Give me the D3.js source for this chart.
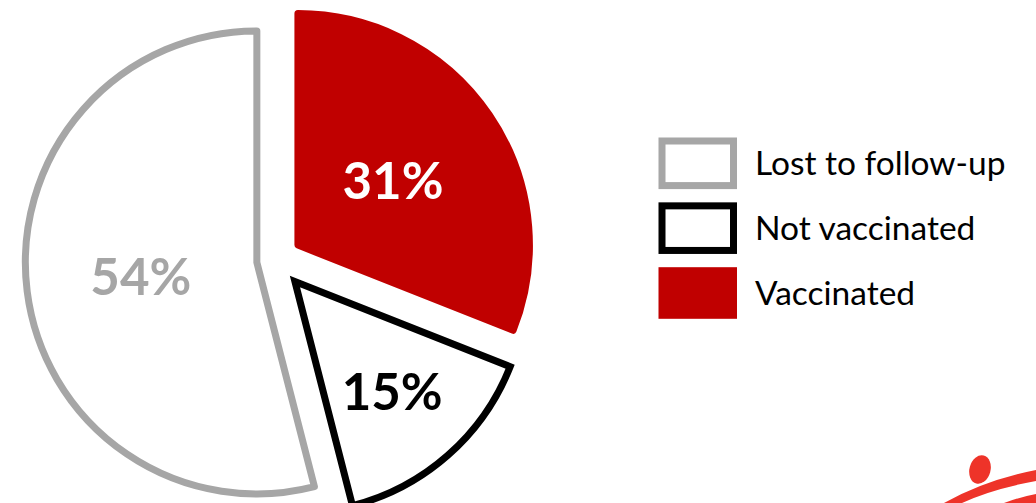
<!DOCTYPE html>
<html>
<head>
<meta charset="utf-8">
<script src="https://cdn.jsdelivr.net/npm/d3@7"></script>
<style>
  html, body { margin: 0; padding: 0; background: #fff; }
  svg { display: block; }
</style>
</head>
<body>
<div id="viz"></div>
<script>
// data (pie order: clockwise from 12 o'clock)
var categories = ['Vaccinated', 'Not vaccinated', 'Lost to follow-up']
var shares = [31, 15, 54]
var shareLabels = ['31%', '15%', '54%']
var legendOrder = ['Lost to follow-up', 'Not vaccinated', 'Vaccinated']

var width = 1036, height = 503
var radius = 231.5
var cx = 276, cy = 260

// how far each slice is pulled out, and where its label sits
var explode = {'Vaccinated': 26.5, 'Not vaccinated': 28.6, 'Lost to follow-up': 19.3}
var labelRadius = {'Vaccinated': 115, 'Not vaccinated': 147, 'Lost to follow-up': 117}

var fill = {'Vaccinated': '#c00000', 'Not vaccinated': '#ffffff', 'Lost to follow-up': '#ffffff'}
var stroke = {'Vaccinated': '#c00000', 'Not vaccinated': '#000000', 'Lost to follow-up': '#a6a6a6'}
var join = {'Vaccinated': 'round', 'Not vaccinated': 'miter', 'Lost to follow-up': 'round'}
var textColor = {'Vaccinated': '#ffffff', 'Not vaccinated': '#000000', 'Lost to follow-up': '#a6a6a6'}

var svg = d3.select('#viz')
  .append('svg')
  .attr('width', width)
  .attr('height', height)

var pie = d3.pie()
  .sort(null)
  .value(function(d) { return d.value })

var arcs = pie(categories.map(function(c, i) {
  return {name: c, value: shares[i], label: shareLabels[i]}
}))

var arc = d3.arc()
  .innerRadius(0)
  .outerRadius(radius)

function mid(d) { return (d.startAngle + d.endAngle) / 2 }

var slices = svg.append('g')
  .attr('transform', 'translate(' + cx + ',' + cy + ')')
  .selectAll('g.slice').data(arcs)
  .enter().append('g')
  .attr('class', 'slice')
  .attr('transform', function(d) {
    var a = mid(d), k = explode[d.data.name]
    return 'translate(' + (Math.sin(a) * k) + ',' + (-Math.cos(a) * k) + ')'
  })

slices.append('path')
  .attr('d', arc)
  .style('fill', function(d) { return fill[d.data.name] })
  .style('stroke', function(d) { return stroke[d.data.name] })
  .style('stroke-width', 7)
  .style('stroke-linejoin', function(d) { return join[d.data.name] })

slices.append('text')
  .attr('x', function(d) { return Math.sin(mid(d)) * labelRadius[d.data.name] })
  .attr('y', function(d) { return -Math.cos(mid(d)) * labelRadius[d.data.name] })
  .attr('dy', '0.36em')
  .attr('text-anchor', 'middle')
  .style('font-family', 'Lato, "Open Sans", sans-serif')
  .style('font-weight', 'bold')
  .style('font-size', '51px')
  .style('fill', function(d) { return textColor[d.data.name] })
  .text(function(d) { return d.data.label })

// legend
var legendY = d3.scalePoint()
  .domain(legendOrder)
  .range([163.3, 293])

var legend = svg.append('g')
  .selectAll('g.item').data(legendOrder)
  .enter().append('g')
  .attr('class', 'item')
  .attr('transform', function(d) { return 'translate(0,' + legendY(d) + ')' })

legend.append('rect')
  .attr('x', 662)
  .attr('y', -22.3)
  .attr('width', 71.5)
  .attr('height', 44.6)
  .style('fill', function(d) { return fill[d] })
  .style('stroke', function(d) { return stroke[d] })
  .style('stroke-width', 7)

legend.append('text')
  .attr('x', 755)
  .attr('dy', '0.36em')
  .style('font-family', 'Lato, "Open Sans", sans-serif')
  .style('font-size', '33.5px')
  .style('fill', '#000')
  .text(function(d) { return d })

// corner of the logo peeking in at bottom right
var logo = svg.append('g').style('fill', '#ee3329')
logo.append('ellipse')
  .attr('cx', 980).attr('cy', 469.5)
  .attr('rx', 10.5).attr('ry', 14.5)
  .attr('transform', 'rotate(15,980,469.5)')
logo.append('path')
  .attr('d', 'M944,503 Q985,480 1036,470 L1036,481 Q992,489 962,503 Z')
logo.append('path')
  .attr('d', 'M1004,503 Q1020,497 1036,494 L1036,503 Z')
</script>
</body>
</html>
